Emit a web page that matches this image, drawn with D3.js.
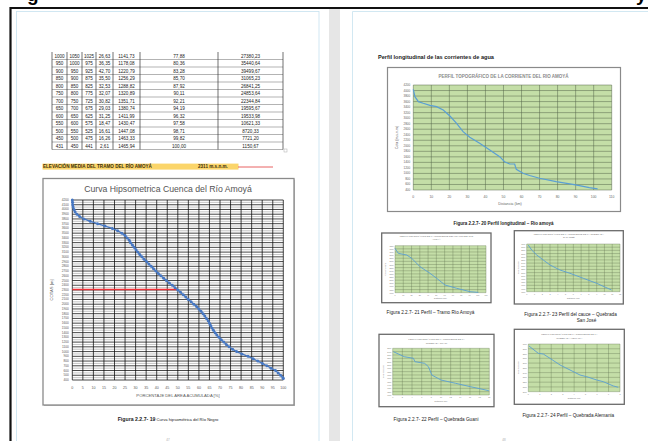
<!DOCTYPE html>
<html><head><meta charset="utf-8">
<script src="https://cdn.jsdelivr.net/npm/d3@7"></script>
<style>html,body{margin:0;padding:0;background:#fff;overflow:hidden}svg{display:block;font-family:"Liberation Sans",Arial,sans-serif}</style>
</head><body>
<svg id="c" width="648" height="441"></svg>
<script>
// ---------------- DATA ----------------
const tableRows = [
  ["1000","1050","1025","26,63","1141,73","77,88","27380,23"],
  ["950","1000","975","36,35","1178,08","80,36","35440,64"],
  ["900","950","925","42,70","1220,79","83,28","39499,67"],
  ["850","900","875","35,50","1256,29","85,70","31065,23"],
  ["800","850","825","32,53","1288,82","87,92","26841,25"],
  ["750","800","775","32,07","1320,89","90,11","24853,64"],
  ["700","750","725","30,82","1351,71","92,21","22344,84"],
  ["650","700","675","29,03","1380,74","94,19","19595,67"],
  ["600","650","625","31,25","1411,99","96,32","19533,98"],
  ["550","600","575","18,47","1430,47","97,58","10621,33"],
  ["500","550","525","16,61","1447,08","98,71","8720,33"],
  ["450","500","475","16,26","1463,33","99,82","7721,20"],
  ["431","450","441","2,61","1465,94","100,00","1150,67"]
];
const meanElevLabel = "ELEVACIÓN MEDIA DEL TRAMO DEL RÍO AMOYÁ";
const meanElevValue = "2311 m.s.n.m.";
const meanElev = 2311;

const hypsoElev = [4200,4150,4100,4050,4000,3950,3900,3850,3800,3750,3700,3650,3600,3550,3500,3450,3400,3350,3300,3250,3200,3150,3100,3050,3000,2950,2900,2850,2800,2750,2700,2650,2600,2550,2500,2450,2400,2350,2300,2250,2200,2150,2100,2050,2000,1950,1900,1850,1800,1750,1700,1650,1600,1550,1500,1450,1400,1350,1300,1250,1200,1150,1100,1050,1000,950,900,850,800,750,700,650,600,550,500,450,431];
const hypsoPct = [0.0,0.1,0.2,0.4,0.8,1.3,2.2,3.5,5.5,8.5,12.0,15.5,19.0,21.5,23.5,25.0,26.0,27.0,27.6,28.5,29.3,30.2,31.0,32.0,33.0,34.0,35.2,36.3,37.4,38.5,39.6,40.8,42.0,43.3,44.6,46.0,47.4,48.7,50.0,51.3,52.6,53.8,55.0,56.3,57.6,58.9,60.0,61.0,62.0,62.8,63.6,64.4,65.0,65.6,66.2,66.9,67.7,68.5,69.5,70.6,71.8,73.0,74.3,76.0,77.88,80.36,83.28,85.70,87.92,90.11,92.21,94.19,96.32,97.58,98.71,99.82,100.0];
const hypsoXTicks = [0,5,10,15,20,25,30,35,40,45,50,55,60,65,70,75,80,85,90,95,100];
const hypsoYTicks = [400,500,600,700,800,900,1000,1100,1200,1300,1400,1500,1600,1700,1800,1900,2000,2100,2200,2300,2400,2500,2600,2700,2800,2900,3000,3100,3200,3300,3400,3500,3600,3700,3800,3900,4000,4100,4200];

const profileKm   = [0,0.9,2.8,5.5,9.2,12.9,16.6,20.3,24,27.6,31.3,36.8,42.4,47.9,50.6,53.4,56.2,56.6,57.1,60.8,64.5,70,79.2,88.4,92.1,97.6,102.2];
const profileElev = [4044,3777,3596,3538,3465,3415,3295,3078,2814,2510,2307,2090,1848,1605,1424,1341,1341,1250,1149,1004,925,824,700,605,560,483,440];
const profileXTicks = [0,10,20,30,40,50,60,70,80,90,100,110];
const profileYTicks = [400,600,800,1000,1200,1400,1600,1800,2000,2200,2400,2600,2800,3000,3200,3400,3600,3800,4000,4200];

const tramoX = [0,4,14.1,20.2,30.2,42.3,50.4,60.4,74.6,90.7,100.7];
const tramoY = [3117,2957,2903,2798,2530,2320,2159,1946,1841,1732,1710];
const tramoXTicks = [0,10,20,30,40,50,60,70,80,90,100,110];
const tramoYTicks = [1700,1800,1900,2000,2100,2200,2300,2400,2500,2600,2700,2800,2900,3000,3100,3200];

const joseX = [0.2,0.64,1.29,2.13,3.0,4.28,5.57,7.28,9.0,10.9];
const joseY = [2969,2811,2654,2497,2340,2182,2079,1921,1764,1554];
const joseXTicks = [0,1,2,3,4,5,6,7,8,9,10,11,12];
const joseYTicks = [1500,1600,1700,1800,1900,2000,2100,2200,2300,2400,2500,2600,2700,2800,2900,3000];

const guaniX = [0.14,2.4,4.3,4.6,6.6,7.4,8.1,10.0,13.0,16.1,19.9];
const guaniY = [2398,2248,2200,2098,2050,1948,1699,1549,1451,1349,1229];
const guaniXTicks = [0,2,4,6,8,10,12,14,16,18,20];
const guaniYTicks = [1100,1200,1300,1400,1500,1600,1700,1800,1900,2000,2100,2200,2300,2400,2500];

const alemX = [0.06,0.87,1.31,1.89,2.77,3.64,4.51,5.1,5.97,6.54,7.42,7.85];
const alemY = [2958,2805,2790,2700,2560,2455,2350,2314,2245,2210,2120,2092];
const alemXTicks = [0,1,2,3,4,5,6,7,8];
const alemYTicks = [2000,2100,2200,2300,2400,2500,2600,2700,2800,2900,3000];

// ---------------- DRAW ----------------
const svg = d3.select("#c");
const T = (g,x,y,s,o={}) => g.append("text").attr("x",x).attr("y",y).text(s)
  .attr("font-size",o.fs||5).attr("fill",o.fill||"#222").attr("text-anchor",o.anchor||"start")
  .attr("font-weight",o.fw||"normal").attr("dominant-baseline",o.db||"auto");
const L = (g,x1,y1,x2,y2,c,w) => g.append("line").attr("x1",x1).attr("y1",y1).attr("x2",x2).attr("y2",y2).attr("stroke",c).attr("stroke-width",w);

svg.append("rect").attr("width",648).attr("height",441).attr("fill","#fff");
// cut-off heading glyphs (descenders of the heading above the visible area)
T(svg,27,1,"g",{fs:19,fw:"bold",fill:"#000"});
T(svg,636,1,"y",{fs:19,fw:"bold",fill:"#000"});
// frame
svg.append("rect").attr("x",329).attr("y",9).attr("width",11).attr("height",432).attr("fill","#e6e6e6");
L(svg,10,8,648,8,"#111",2.2);
L(svg,10.5,7,10.5,441,"#111",2.2);
svg.append("rect").attr("x",16.5).attr("y",11.5).attr("width",302.5).attr("height",440).attr("fill","none").attr("stroke","#c6e2ef").attr("stroke-width",0.8);
L(svg,352.5,11.5,352.5,441,"#c6e2ef",0.8);
L(svg,352.5,11.5,648,11.5,"#c6e2ef",0.8);

// ---- Table ----
const colX = [52,67,82,96,113,140,218,283];
const rowTop = 52, rowH = 7.5;
const tg = svg.append("g");
tableRows.forEach((r,i)=>{
  const y0 = rowTop + i*rowH;
  L(tg,colX[0],y0+rowH,colX[7],y0+rowH,"#666",0.5);
  r.forEach((v,j)=>T(tg,(colX[j]+colX[j+1])/2,y0+rowH/2+0.3,v,{fs:4.6,anchor:"middle",db:"central",fill:"#1a1a1a"}));
});
colX.forEach(x=>L(tg,x,rowTop,x,rowTop+tableRows.length*rowH,"#333",0.7));
tg.append("rect").attr("x",284).attr("y",149).attr("width",3).attr("height",3).attr("fill","none").attr("stroke","#aaa").attr("stroke-width",0.5);

// ---- Mean elevation ----
svg.append("rect").attr("x",42.5).attr("y",163.6).attr("width",196).attr("height",6).attr("fill","#fbd56a");
T(svg,43,168.4,meanElevLabel,{fs:4.6,fw:"bold",fill:"#3b2f0a"});
T(svg,198,168.4,meanElevValue,{fs:4.6,fw:"bold",fill:"#3b2f0a"});
L(svg,238,167,273,167,"#e23a3a",0.8);

// ---- Hypsometric chart ----
const hg = svg.append("g");
hg.append("rect").attr("x",44).attr("y",179.5).attr("width",251).attr("height",226.5).attr("fill","#bbb");
hg.append("rect").attr("x",43).attr("y",178.5).attr("width",251).attr("height",226.5).attr("fill","#fff").attr("stroke","#8a8a8a").attr("stroke-width",1.3);
T(hg,168,192.3,"Curva Hipsometrica Cuenca del Río Amoyá",{fs:8.7,anchor:"middle",fill:"#555"});
const hx = d3.scaleLinear().domain([0,100]).range([72.3,283.3]);
const hy = d3.scaleLinear().domain([400,4200]).range([380,200]);
d3.range(400,4201,50).forEach(v=>{
  const major = v%100===0;
  L(hg,hx(0),hy(v),hx(100),hy(v),major?"#0a0a0a":"#8a8a8a",major?0.75:0.5);
});
hypsoXTicks.forEach(v=>L(hg,hx(v),hy(4200),hx(v),hy(400),"#0a0a0a",0.75));
hypsoYTicks.forEach(v=>T(hg,hx(0)-3.5,hy(v),String(v),{fs:3.2,anchor:"end",db:"central",fill:"#595959"}));
hypsoXTicks.forEach(v=>T(hg,hx(v),388.5,String(v),{fs:3.6,anchor:"middle",fill:"#595959"}));
T(hg,178,396.5,"PORCENTAJE DEL AREA ACUMULADA [%]",{fs:4.2,anchor:"middle",fill:"#595959"});
T(hg,0,0,"COTAS [m]",{fs:4.2,anchor:"middle",fill:"#595959"}).attr("transform","translate(53,290) rotate(-90)");
const hpts = hypsoElev.map((e,i)=>[hypsoPct[i],e]);
const meanPct = (()=>{for(let i=1;i<hpts.length;i++){const a=hpts[i-1],b=hpts[i];if(meanElev<=a[1]&&meanElev>=b[1]){return a[0]+(b[0]-a[0])*(a[1]-meanElev)/(a[1]-b[1]);}}return 50;})();
L(hg,hx(0),hy(meanElev),hx(meanPct),hy(meanElev),"#ee2f35",1.5);
hg.append("path").attr("d",d3.line().x(d=>hx(d[0])).y(d=>hy(d[1]))(hpts)).attr("fill","none").attr("stroke","#4677c2").attr("stroke-width",1.3);
hg.selectAll("circle").data(hpts).join("circle").attr("cx",d=>hx(d[0])).attr("cy",d=>hy(d[1])).attr("r",1.5).attr("fill","#4677c2");
const cap1 = T(svg,168,421,"",{fs:5,anchor:"middle"});
cap1.append("tspan").attr("font-weight","bold").attr("font-size",5.2).text("Figura 2.2.7- 19");
cap1.append("tspan").attr("font-size",4.1).text(" Curva hipsométrica del Río Negro");
T(svg,168,440.5,"47",{fs:3,anchor:"middle",fill:"#aaa"});

// ---- Right page ----
T(svg,378,59,"Perfil longitudinal de las corrientes de agua",{fs:5.6,fw:"bold",fill:"#1a1a1a"});
const pg = svg.append("g");
pg.append("rect").attr("x",387.5).attr("y",67.5).attr("width",233).attr("height",144).attr("fill","#fff").attr("stroke","#8a8a8a").attr("stroke-width",1.2);
T(pg,503.5,78,"PERFIL TOPOGRÁFICO DE LA CORRIENTE DEL RIO AMOYÁ",{fs:4.5,fw:"bold",anchor:"middle",fill:"#8a8a8a"});
const px = d3.scaleLinear().domain([0,110]).range([413.3,611.7]);
const py = d3.scaleLinear().domain([400,4200]).range([190,85]);
pg.append("rect").attr("x",px(0)).attr("y",py(4200)).attr("width",px(110)-px(0)).attr("height",py(400)-py(4200)).attr("fill","#c4dea7");
profileYTicks.forEach(v=>L(pg,px(0),py(v),px(110),py(v),"#55654a",0.5));
profileXTicks.forEach(v=>L(pg,px(v),py(4200),px(v),py(400),"#55654a",0.5));
profileYTicks.forEach(v=>T(pg,px(0)-3,py(v),String(v),{fs:3.1,anchor:"end",db:"central",fill:"#666"}));
profileXTicks.forEach(v=>T(pg,px(v),197.6,String(v),{fs:3.4,anchor:"middle",fill:"#666"}));
T(pg,510,204.6,"Distancia (km)",{fs:3.7,anchor:"middle",fill:"#666"});
T(pg,0,0,"Cota (m.s.n.m)",{fs:3.5,anchor:"middle",fill:"#666"}).attr("transform","translate(398,137.5) rotate(-90)");
pg.append("path").attr("d",d3.line().x((d,i)=>px(profileKm[i])).y(d=>py(d))(profileElev)).attr("fill","none").attr("stroke","#5a9fd4").attr("stroke-width",1.2);
T(svg,503.5,224.6,"Figura 2.2.7- 20 Perfil longitudinal – Rio amoyá",{fs:4.5,fw:"bold",anchor:"middle",fill:"#1a1a1a"});

function small(cfg){
  const g = svg.append("g");
  const [bx0,by0,bx1,by1] = cfg.box, [qx0,qy0,qx1,qy1] = cfg.plot;
  g.append("rect").attr("x",bx0).attr("y",by0).attr("width",bx1-bx0).attr("height",by1-by0).attr("fill","#fff").attr("stroke","#6a6a6a").attr("stroke-width",1.3);
  cfg.title.forEach((t,i)=>T(g,(bx0+bx1)/2,cfg.titleY[i],t,{fs:2.4,anchor:"middle",fill:"#777"}));
  const sx = d3.scaleLinear().domain(d3.extent(cfg.xt)).range([qx0,qx1]);
  const sy = d3.scaleLinear().domain(d3.extent(cfg.yt)).range([qy1,qy0]);
  g.append("rect").attr("x",qx0).attr("y",qy0).attr("width",qx1-qx0).attr("height",qy1-qy0).attr("fill","#c4dea7");
  cfg.yt.forEach(v=>L(g,qx0,sy(v),qx1,sy(v),"#60704f",0.35));
  cfg.xt.forEach(v=>L(g,sx(v),qy0,sx(v),qy1,"#60704f",0.35));
  cfg.yt.forEach(v=>T(g,qx0-1.5,sy(v),String(v),{fs:1.8,anchor:"end",db:"central",fill:"#777"}));
  cfg.xt.forEach(v=>T(g,sx(v),qy1+2.8,String(v),{fs:1.9,anchor:"middle",fill:"#777"}));
  T(g,(qx0+qx1)/2,cfg.xTitleY,"Distancia (km)",{fs:2,anchor:"middle",fill:"#777"});
  T(g,0,0,"Cota (m.s.n.m)",{fs:1.9,anchor:"middle",fill:"#777"}).attr("transform",`translate(${bx0+4.5},${(qy0+qy1)/2}) rotate(-90)`);
  g.append("path").attr("d",d3.line().x((d,i)=>sx(cfg.x[i])).y(d=>sy(d))(cfg.y)).attr("fill","none").attr("stroke","#5a9fd4").attr("stroke-width",0.9);
  cfg.caption.forEach((c,i)=>T(svg,cfg.capX[i],cfg.capY[i],c,{fs:4.7,anchor:"middle",fill:"#1a1a1a"}));
}
small({box:[381.7,233,491,302.7],plot:[395,245.7,486,292.7],title:["PERFIL TOPOGRÁFICO DE LA CORRIENTE DEL TRAMO DEL RIO","AMOYÁ"],titleY:[236.8,240.2],
  xt:tramoXTicks,yt:tramoYTicks,x:tramoX,y:tramoY,xTitleY:299,caption:["Figura 2.2.7- 21 Perfil – Tramo Río Amoyá"],capX:[430.5],capY:[314.3]});
small({box:[514.3,230.7,623.3,304],plot:[526.7,244,620,291.7],title:["PERFIL TOPOGRÁFICO DE LA CORRIENTE DE LA QUEBRADA","SAN JOSÉ"],titleY:[234.5,237.8],
  xt:joseXTicks,yt:joseYTicks,x:joseX,y:joseY,xTitleY:298.5,caption:["Figura 2.2.7- 23 Perfil del cauce – Quebrada","San José"],capX:[570.5,586.5],capY:[316.3,322.3]});
small({box:[379,334.3,494,406.7],plot:[392.7,348.3,489.3,395],title:["PERFIL TOPOGRÁFICO DE LA CORRIENTE DE LA","QUEBRADA GUANI"],titleY:[339.8,344.2],
  xt:guaniXTicks,yt:guaniYTicks,x:guaniX,y:guaniY,xTitleY:402,caption:["Figura 2.2.7- 22 Perfil – Quebrada Guani"],capX:[436],capY:[421]});
small({box:[514.3,329.3,624.3,404.3],plot:[528.3,344,620,391.7],title:["PERFIL TOPOGRÁFICO DE LA CORRIENTE DE LA","QUEBRADA ALEMANIA"],titleY:[334.8,339.2],
  xt:alemXTicks,yt:alemYTicks,x:alemX,y:alemY,xTitleY:399,caption:["Figura 2.2.7- 24 Perfil – Quebrada Alemania"],capX:[568.3],capY:[417]});
T(svg,504,440.5,"48",{fs:3,anchor:"middle",fill:"#aaa"});
</script>
</body></html>
